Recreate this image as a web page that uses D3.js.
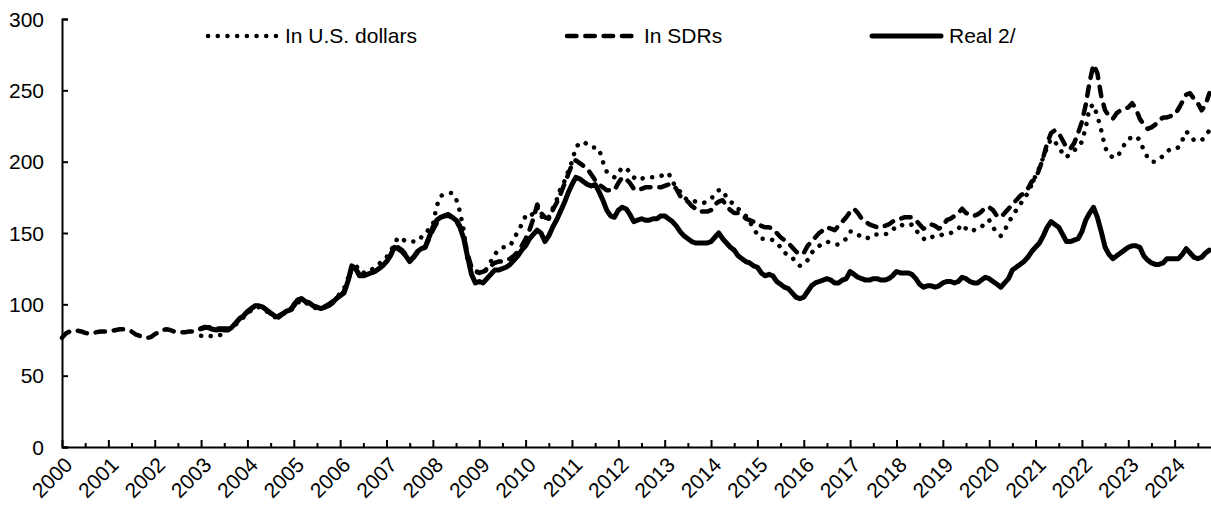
<!DOCTYPE html>
<html lang="en">
<head>
<meta charset="UTF-8">
<title>Commodity price indices</title>
<script src="https://d3js.org/d3.v7.min.js"></script>
<style>
  body { margin: 0; background: #fff; }
  svg text { font-family: "Liberation Sans", Arial, sans-serif; fill: #000; }
</style>
</head>
<body>
<div id="chart"></div>
<script>
// monthly index values, one row per year
var sdrStart = 2000; // Jan 2000
var sdr = [
  76.5, 79.5, 81, 81.5, 81.5, 81, 80, 79.5, 80, 80.5, 81, 81,
  81, 81.5, 82, 82.5, 82.5, 82, 81, 79, 78, 77, 76.5, 77,
  79, 80.5, 82, 82.5, 82, 81, 80.5, 80.5, 80.5, 81, 81, 82,
  83, 83.5, 84, 83.5, 83, 83, 83, 83, 84, 87, 90, 92,
  94, 97, 99, 99, 98, 96, 93.5, 92, 92, 93.5, 95, 96,
  100, 103, 104, 102, 101, 99, 98, 97.5, 98.5, 100, 102, 104,
  106, 109, 116, 125, 125, 121, 120, 121, 122, 123, 125, 127,
  130, 134, 139, 140, 138, 135, 131, 133, 136, 138, 140, 146,
  152, 157, 161, 162, 162, 161, 160, 155, 148, 135, 126, 123,
  122, 123, 124, 127, 129, 130, 130, 131, 132, 134, 137, 141,
  146, 152, 160, 170, 164, 161, 160, 166, 171, 177, 184, 191,
  198, 201, 199, 197, 195, 191, 187, 184, 182, 180, 180, 180,
  185, 189, 188, 185, 181, 180, 181, 182, 182, 182, 182, 182,
  183, 184, 184, 181, 176, 174, 172, 169, 167, 165, 165, 165,
  166, 170, 172, 173, 169, 166, 164, 164, 163, 160, 159, 158,
  157, 155, 154, 154, 153, 150, 147, 145, 143, 140, 137, 135,
  136, 141, 144, 147, 150, 152, 154, 153, 152, 155, 158, 161,
  165, 167, 164, 160, 158, 156, 155, 154, 154, 155, 156, 158,
  159, 160, 161, 161, 161, 159, 156, 153, 154, 156, 155, 153,
  155, 159, 160, 162, 164, 167, 164, 163, 162, 163, 165, 168,
  168, 166, 162, 161, 164, 167, 170, 173, 176, 178, 181, 186,
  188, 195, 203, 213, 220, 222, 220, 215, 210, 209, 213, 220,
  228, 240, 256, 268, 262, 246, 236, 232, 230, 234, 236, 237,
  238, 241, 237, 230, 226, 223, 224, 226, 229, 231, 231, 232,
  233, 237, 242, 247, 248, 244, 241, 236, 240, 248
];

var usdStart = 2003; // Jan 2003
var usd = [
  78, 77.5, 78, 77.5, 78, 78.5, 80, 82, 84, 86, 88, 91,
  93, 96, 98, 98, 97, 95, 93, 91, 91, 93, 94, 95,
  98, 101, 103, 101, 100, 98, 97, 97, 98, 99, 101, 104,
  108, 111, 118, 126, 128, 123, 122, 124, 124, 126, 128, 131,
  133, 137, 142, 147, 146, 144, 144, 144, 144, 147, 149, 153,
  156, 169, 176, 177, 178, 178, 174, 165, 152, 130, 124, 123,
  123, 123, 125, 130, 135, 138, 140, 140, 141, 146, 151, 156,
  162, 161, 164, 168, 162, 159, 161, 167, 173, 181, 186, 193,
  200, 210, 213, 214, 212, 210, 210, 209, 200, 193, 191, 189,
  192, 196, 195, 193, 189, 187, 188, 189, 189, 189, 189, 190,
  191, 192, 186, 182, 179, 175, 173, 173, 172, 171, 171, 172,
  174, 177, 180, 180, 175, 172, 170, 167, 165, 162, 158, 153,
  149, 146, 146, 146, 145, 143, 140, 136, 135, 133, 129, 127,
  128, 131, 136, 139, 141, 143, 144, 143, 142, 142, 144, 146,
  151, 151, 149, 147, 146, 147, 149, 149, 149, 149, 150, 152,
  155, 156, 155, 155, 156, 152, 149, 146, 145, 147, 148, 148,
  149, 150, 150, 151, 153, 156, 153, 151, 152, 153, 154, 158,
  159, 154, 150, 148, 152, 157, 162, 166, 170, 174, 178, 184,
  190, 196, 203, 210, 216, 214, 210, 206, 203, 206, 208, 210,
  214, 224, 238, 240, 232, 222, 210, 205, 203, 203, 207, 212,
  216, 217, 218, 215, 208, 203, 200, 200, 202, 204, 207, 209,
  209, 210, 215, 221, 219, 215, 215, 215, 218, 222
];

var realStart = 2003; // Jan 2003
var real = [
  83, 84, 83.5, 82.5, 82, 82.5, 82, 82, 84, 87, 90, 92,
  95, 97, 99, 99, 98, 96, 94, 92, 91, 93, 95, 96,
  99, 103, 104, 102, 101, 99, 98, 97, 98, 99, 101, 104,
  106, 108, 116, 127, 125, 120, 120, 121, 122, 123, 125, 127,
  130, 134, 140, 139, 137, 134, 130, 133, 137, 139, 140, 147,
  154, 159, 161, 162, 163, 161, 159, 154, 146, 133, 121, 115,
  116, 115, 118, 121, 124, 124, 125, 126, 128, 131, 134, 138,
  141, 146, 149, 152, 150, 144, 148, 154, 159, 165, 171, 178,
  184, 189, 188, 186, 184, 183, 184, 179, 173, 166, 162, 161,
  166, 168, 167, 163, 158, 159, 160, 159, 159, 160, 160, 162,
  162, 160, 158, 155, 151, 148, 146, 144, 143, 143, 143, 143,
  144, 147, 150, 146, 143, 140, 138, 134, 132, 130, 129, 127,
  126, 122, 120, 121, 120, 116, 114, 112, 111, 108, 105, 104,
  105, 109, 113, 115, 116, 117, 118, 117, 115, 115, 117, 118,
  123, 121, 119, 118, 117, 117, 118, 118, 117, 117, 118, 120,
  123, 122, 122, 122, 121, 118, 114, 112, 113, 113, 112, 113,
  115, 116, 116, 115, 116, 119, 118, 116, 115, 115, 117, 119,
  118, 116, 114, 112, 115, 118, 124, 126, 128, 130, 133, 137,
  140, 143, 148, 154, 158, 156, 154, 149, 144, 144, 145, 146,
  151, 159, 164, 168, 161, 151, 140, 135, 132, 134, 136, 138,
  140, 141, 141, 140, 134, 131, 129, 128, 128, 129, 132, 132,
  132, 132, 135, 139, 136, 133, 132, 133, 136, 138
];

var yearTicks = d3.range(2000, 2025);
var yTicks = [0, 50, 100, 150, 200, 250, 300];
var seriesNames = ["In U.S. dollars", "In SDRs", "Real 2/"];

var width = 1211, height = 510;
var plot = {left: 62, right: 1211, top: 19, bottom: 447};

var svg = d3.select("#chart")
  .append("svg")
    .attr("width", width)
    .attr("height", height);

var x = d3.scaleLinear()
  .domain([2000, 2000 + (plot.right - plot.left) / 46.36])
  .range([plot.left, plot.right]);

var y = d3.scaleLinear()
  .domain([0, 300])
  .range([plot.bottom, plot.top]);

// monthly points
function toPoints(start, values) {
  return values.map(function(v, i) { return {t: start + i / 12, v: v}; });
}

var series = [
  {name: seriesNames[0], data: toPoints(usdStart, usd), width: 4.5, dash: "0.1 9.6"},
  {name: seriesNames[1], data: toPoints(sdrStart, sdr), width: 4.5, dash: "9.5 8.8"},
  {name: seriesNames[2], data: toPoints(realStart, real), width: 5, dash: null}
];

var line = d3.line()
  .x(function(d) { return x(d.t); })
  .y(function(d) { return y(d.v); });

series.forEach(function(s) {
  svg.append("path")
    .datum(s.data)
    .attr("fill", "none")
    .attr("stroke", "#000")
    .attr("stroke-width", s.width)
    .attr("stroke-linecap", "round")
    .attr("stroke-linejoin", "round")
    .attr("stroke-dasharray", s.dash)
    .attr("d", line);
});

// Y axis, ticks pointing inside
var yAxis = svg.append("g")
  .attr("transform", "translate(" + plot.left + ",0)")
  .call(d3.axisLeft(y).tickValues(yTicks).tickSize(-6).tickPadding(18));
yAxis.select(".domain").attr("stroke-width", 2);
yAxis.selectAll(".tick line").attr("stroke-width", 2);
yAxis.selectAll("text")
  .style("font-size", "21px")
  .attr("dy", "0.34em");

// X axis: half-year minor ticks, year major ticks with labels
var xMinor = svg.append("g")
  .attr("transform", "translate(0," + plot.bottom + ")")
  .call(d3.axisBottom(x)
    .tickValues(yearTicks.map(function(d) { return d + 0.5; }))
    .tickSize(-4).tickFormat(""));
xMinor.select(".domain").remove();
xMinor.selectAll(".tick line").attr("stroke-width", 2);

var xAxis = svg.append("g")
  .attr("transform", "translate(0," + plot.bottom + ")")
  .call(d3.axisBottom(x)
    .tickValues(yearTicks)
    .tickSize(-7).tickSizeOuter(0)
    .tickFormat(d3.format("d")));
xAxis.select(".domain").attr("stroke-width", 2);
xAxis.selectAll(".tick line").attr("stroke-width", 2);
xAxis.selectAll("text")
  .style("font-size", "21px")
  .attr("text-anchor", "end")
  .attr("x", 0)
  .attr("y", 0)
  .attr("dy", "0.35em")
  .attr("transform", "translate(6,14) rotate(-45)");

// legend
var legendX = [208, 567, 872];
var legend = svg.append("g");
series.forEach(function(s, i) {
  legend.append("line")
    .attr("x1", legendX[i]).attr("x2", legendX[i] + 69)
    .attr("y1", 36).attr("y2", 36)
    .attr("stroke", "#000")
    .attr("stroke-width", s.width)
    .attr("stroke-linecap", "round")
    .attr("stroke-dasharray", s.dash);
  legend.append("text")
    .attr("x", legendX[i] + 77)
    .attr("y", 36)
    .attr("dy", "0.35em")
    .style("font-size", "21px")
    .text(s.name);
});
</script>
</body>
</html>
